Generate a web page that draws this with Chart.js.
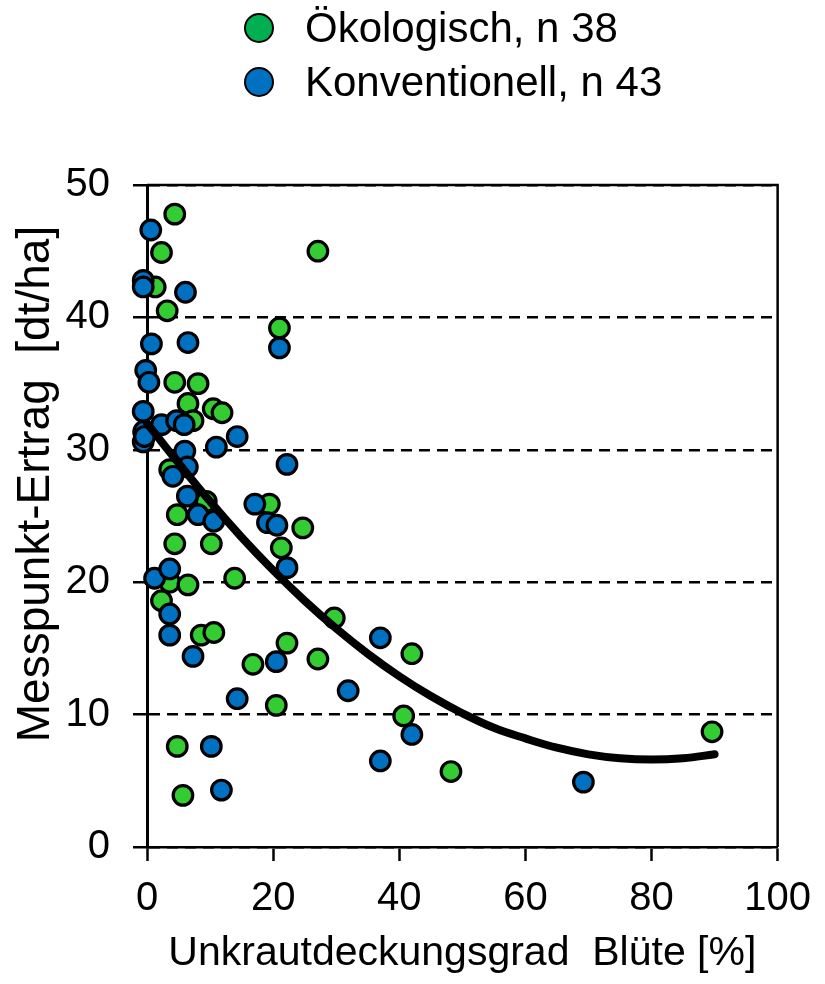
<!DOCTYPE html>
<html>
<head>
<meta charset="utf-8">
<script src="https://cdn.jsdelivr.net/npm/chart.js@4.4.0/dist/chart.umd.min.js"></script>
<style>
  body { margin: 0; background: #fff; }
  #wrap { position: relative; width: 825px; height: 984px; }
  #legend { position: absolute; left: 244px; top: 1px; font-family: "Liberation Sans", Arial, sans-serif; font-size: 42px; color: #000; }
  .item { display: flex; align-items: center; height: 54px; line-height: 54px; white-space: nowrap; }
  .dot { width: 26px; height: 26px; border: 2px solid #000; border-radius: 50%; margin-right: 31px; }
</style>
</head>
<body>
<div id="wrap">
  <div id="legend"></div>
  <canvas id="chart"></canvas>
</div>
<script>
// series names
const seriesNames = ["Ökologisch, n 38", "Konventionell, n 43"];

// Ökologisch (green)
const oekoX = [4.4, 2.3, 27.1, 1.3, 3.2, 21.0, 4.4, 8.1, 6.5, 10.5, 11.9, 7.3, -0.5, 3.6, 9.4, 19.4, 4.8, 24.7, 4.4, 10.2, 21.3, 3.6, 6.5, 13.9, 2.3, 29.7, 8.6, 10.6, 16.8, 22.2, 27.1, 20.5, 4.8, 5.7, 42.0, 40.7, 48.2, 89.6];
const oekoY = [47.8, 44.9, 45.0, 42.3, 40.5, 39.2, 35.1, 35.0, 33.5, 33.1, 32.8, 32.2, 31.3, 28.5, 26.1, 25.9, 25.1, 24.1, 22.9, 22.9, 22.6, 20.0, 19.8, 20.3, 18.6, 17.3, 16.0, 16.2, 13.8, 15.4, 14.2, 10.7, 7.6, 3.9, 14.6, 9.9, 5.7, 8.7];

// Konventionell (blue)
const konvX = [0.6, -0.6, -0.6, 6.1, 21.0, 0.7, 6.5, -0.2, 0.3, -0.6, 2.3, 4.7, 5.9, 14.3, -0.6, -0.5, 11.0, 6.0, 22.2, 6.4, 4.1, 6.4, 17.1, 8.1, 10.6, 19.1, 20.6, 22.2, 1.2, 3.6, 3.6, 3.6, 7.3, 20.5, 31.9, 14.3, 10.2, 11.8, 37.0, 42.0, 37.0, 69.2, -0.4];
const konvY = [46.6, 42.8, 42.3, 41.9, 37.7, 38.0, 38.1, 36.0, 35.1, 32.9, 31.9, 32.2, 31.9, 31.0, 30.6, 31.4, 30.2, 29.9, 28.9, 28.7, 28.0, 26.5, 25.9, 25.1, 24.6, 24.5, 24.3, 21.1, 20.3, 21.0, 17.6, 16.0, 14.4, 14.0, 11.8, 11.2, 7.6, 4.3, 15.8, 8.5, 6.5, 4.9, 31.0];

// trend line
const trendX = [0, 5, 10, 15, 20, 25, 30, 35, 40, 45, 50, 55, 60, 65, 70, 75, 80, 85, 90];
const trendY = [32.0, 29.0, 26.1, 23.4, 20.9, 18.6, 16.5, 14.6, 12.9, 11.4, 10.1, 9.0, 8.2, 7.5, 7.0, 6.7, 6.6, 6.7, 7.0];

// axis ticks
const xTicks = [0, 20, 40, 60, 80, 100];
const yTicks = [0, 10, 20, 30, 40, 50];

const xTitle = "Unkrautdeckungsgrad  Blüte [%]";
const yTitle = "Messpunkt-Ertrag  [dt/ha]";

const green = "#33CC33";
const blue = "#0070C0";
const legendColors = ["#00B050", "#0070C0"];

function zip(xs, ys) {
  return xs.map((x, i) => ({ x: x, y: ys[i] }));
}

// legend in html
const legend = document.getElementById("legend");
seriesNames.forEach((name, i) => {
  let item = legend.appendChild(document.createElement("div"));
  item.setAttribute("class", "item");
  let dot = item.appendChild(document.createElement("span"));
  dot.setAttribute("class", "dot");
  dot.style.backgroundColor = legendColors[i];
  let label = item.appendChild(document.createElement("span"));
  label.textContent = name;
});

// top and right border of the plot
const frame = {
  id: "frame",
  afterDraw(chart) {
    const { ctx, chartArea } = chart;
    ctx.save();
    ctx.strokeStyle = "#000";
    ctx.lineWidth = 2.5;
    ctx.beginPath();
    ctx.moveTo(chartArea.left, chartArea.top);
    ctx.lineTo(chartArea.right, chartArea.top);
    ctx.lineTo(chartArea.right, chartArea.bottom);
    ctx.stroke();
    ctx.restore();
  },
};

const pointStyle = {
  pointRadius: 9.8,
  pointHoverRadius: 9.8,
  pointBorderWidth: 3.2,
  pointBorderColor: "#000",
  clip: false,
};

const font = "'Liberation Sans', Arial, sans-serif";

new Chart(document.getElementById("chart"), {
  type: "scatter",
  data: {
    datasets: [
      Object.assign({ label: seriesNames[0], data: zip(oekoX, oekoY), pointBackgroundColor: green, order: 2 }, pointStyle),
      Object.assign({ label: seriesNames[1], data: zip(konvX, konvY), pointBackgroundColor: blue, order: 1 }, pointStyle),
      {
        label: "Trend",
        data: zip(trendX, trendY),
        showLine: true,
        pointRadius: 0,
        borderColor: "#000",
        borderWidth: 8,
        borderCapStyle: "round",
        tension: 0.4,
        order: 0,
        clip: false,
      },
    ],
  },
  options: {
    responsive: true,
    maintainAspectRatio: false,
    animation: false,
    layout: { padding: { top: 185, right: 41, bottom: 0, left: 0 } },
    plugins: { legend: { display: false }, tooltip: { enabled: false } },
    scales: {
      x: {
        type: "linear",
        min: 0,
        max: 100,
        afterBuildTicks: (axis) => { axis.ticks = xTicks.map((v) => ({ value: v })); },
        afterFit: (scale) => { scale.height = 137; },
        grid: { drawOnChartArea: false, tickLength: 14, tickWidth: 2.5, tickColor: "#000" },
        border: { color: "#000", width: 2.5 },
        ticks: { color: "#000", font: { family: font, size: 40 }, padding: 14, maxRotation: 0 },
        title: { display: true, text: xTitle, color: "#000", font: { family: font, size: 41 }, padding: { top: 0, bottom: 6 } },
      },
      y: {
        type: "linear",
        min: 0,
        max: 50,
        afterBuildTicks: (axis) => { axis.ticks = yTicks.map((v) => ({ value: v })); },
        afterFit: (scale) => { scale.width = 147; },
        grid: { color: "#000", lineWidth: 2.5, tickLength: 14, tickWidth: 2.5, tickColor: "#000", tickBorderDash: [] },
        border: { color: "#000", width: 3, dash: [11, 7] },
        ticks: { color: "#000", font: { family: font, size: 40 }, padding: 23 },
        title: { display: true, text: "     " + yTitle, color: "#000", font: { family: font, size: 46 }, padding: { top: 9, bottom: 0 } },
      },
    },
  },
  plugins: [frame],
});
</script>
</body>
</html>
